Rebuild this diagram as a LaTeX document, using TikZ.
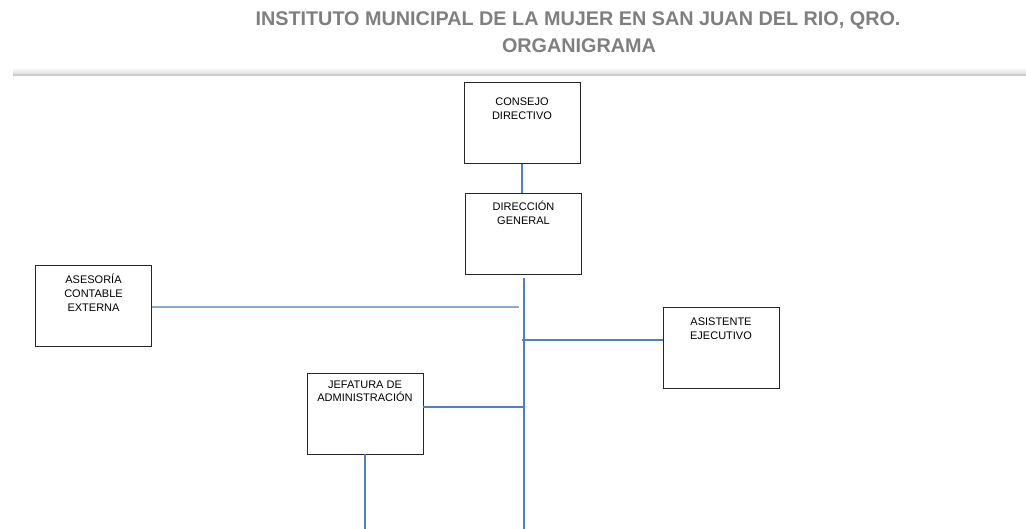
\documentclass[tikz,border=0pt]{standalone}
\usepackage{fontspec}
\setmainfont{Liberation Sans}
\usetikzlibrary{positioning}
\definecolor{azul}{HTML}{4F81BD}
\definecolor{azulclaro}{HTML}{8AAAD4}
\definecolor{gristitulo}{HTML}{7F7F7F}
\newcommand{\cargo}[2][19pt]{\parbox[c][81pt][t]{116pt}{\centering\fontsize{11}{14}\selectfont\rule{0pt}{#1}#2}}

\begin{document}
\begin{tikzpicture}
		[x=1pt, y=-1pt,
		puesto/.style ={rectangle, draw=black!85, line width=0.9pt, fill=white, inner sep=0pt},
		enlace/.style ={draw=azul, line width=1.2pt},
		enlaceclaro/.style ={draw=azulclaro, line width=1.6pt},
		titulo/.style ={font=\fontsize{19.8}{30}\selectfont\bfseries, text=gristitulo, anchor=base, inner sep=0pt}]
		\useasboundingbox (0,0) rectangle (1026,529);

		\node[titulo] (titulo1) at (578,26) {INSTITUTO MUNICIPAL DE LA MUJER EN SAN JUAN DEL RIO, QRO.};
		\node[titulo] (titulo2) at (579,52.5) {ORGANIGRAMA};
		\shade[top color=gray!3, bottom color=gray!30] (13,68) rectangle (1026,75);
		\draw[gray!40, line width=1.5pt] (13,75) -- (1026,75);

		\node[puesto] (consejo) at (522,123) {\cargo[23pt]{CONSEJO\\DIRECTIVO}};
		\node[puesto] (direccion) at (523.5,233.5) {\cargo[18pt]{DIRECCIÓN\\GENERAL}};
		\node[puesto] (asesoria) at (93.5,305.5) {\cargo{ASESORÍA\\CONTABLE\\EXTERNA}};
		\node[puesto] (asistente) at (721,347.5) {\cargo{ASISTENTE\\EJECUTIVO}};
		\node[puesto] (jefatura) at (365,413.5) {\cargo[15pt]{JEFATURA DE\\ADMINISTRACIÓN}};

		\coordinate (tronco) at (524,278);
		\coordinate (fin) at (524,529);

		\path[enlace]
		(consejo.south) -- (consejo.south |- direccion.north)
		(tronco) -- (fin)
		([yshift=7.5pt]asistente.west) -- ([yshift=7.5pt,xshift=-2pt]asistente.west -| tronco)
		([yshift=6.5pt]jefatura.east) -- ([yshift=6.5pt]jefatura.east -| tronco)
		(jefatura.south) -- (jefatura.south |- fin);

		\path[enlaceclaro]
		([yshift=-1.5pt]asesoria.east) -- ([yshift=-1.5pt,xshift=-5pt]asesoria.east -| tronco);

	\end{tikzpicture}
\end{document}
